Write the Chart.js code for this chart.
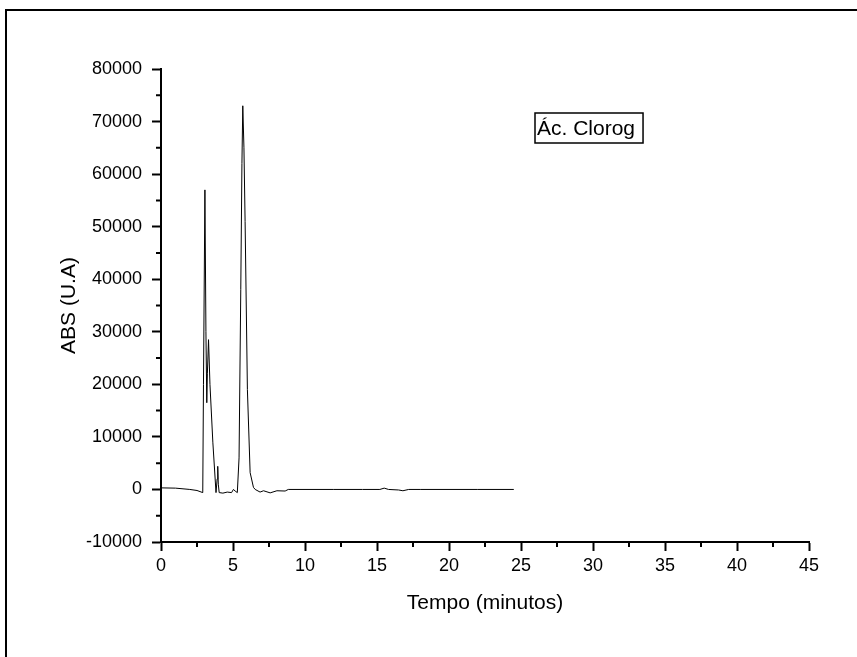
<!DOCTYPE html>
<html lang="pt">
<head>
    <meta charset="UTF-8" />
    <title>Ác. Clorog</title>
    <script src="https://cdn.jsdelivr.net/npm/chart.js"></script>
    <style>
        html, body { margin: 0; padding: 0; background: #fff; overflow: hidden; }
        #wrap { position: relative; width: 857px; height: 657px; overflow: hidden; }
        #moldura {
            position: absolute; left: 5px; top: 9px; width: 900px; height: 700px;
            border-top: 2px solid #000; border-left: 2px solid #000;
        }
        canvas { position: absolute; left: 0; top: 0; }
    </style>
</head>
<body>
    <div id="wrap">
        <div id="moldura"></div>
        <canvas id="grafico" width="857" height="657"></canvas>
    </div>

    <script>
        const tempo = [0, 1, 2, 2.5, 2.9, 2.95, 3.05, 3.12, 3.18, 3.22, 3.3, 3.4, 3.6, 3.82, 3.9, 3.94, 3.98, 4.04,
            4.3, 4.6, 4.9, 5.03, 5.15, 5.3, 5.42, 5.54, 5.62, 5.68, 5.76, 5.84, 6.0, 6.19, 6.42, 6.54, 6.88, 7.12,
            7.58, 8.05, 8.62, 8.84, 10, 12, 14, 15.2, 15.5, 15.8, 16.5, 16.8, 17.2, 18, 20, 22, 24.5];
        const abs = [300, 250, 0, -200, -600, 20000, 57000, 30000, 16500, 22000, 28500, 20000, 9000, -600, 2000, 4400, 1000, -600,
            -700, -500, -600, 0, -300, -600, 6000, 38000, 62000, 73000, 65000, 51000, 19000, 3200, 400, 0, -500, -250,
            -650, -250, -300, 0, 0, 0, 0, 0, 250, 0, -100, -250, 0, 0, 0, 0, 0];
        const ticksX = [0, 5, 10, 15, 20, 25, 30, 35, 40, 45];
        const ticksY = [-10000, 0, 10000, 20000, 30000, 40000, 50000, 60000, 70000, 80000];
        const rotulo = 'Ác. Clorog';

        const fonte = "'Liberation Sans', Arial, sans-serif";

        // ticks menores + caixa do rótulo
        const extras = {
            id: 'extras',
            afterDraw(chart) {
                const { ctx, chartArea, scales } = chart;
                ctx.save();
                ctx.strokeStyle = '#000';
                ctx.lineWidth = 2;
                ctx.beginPath();
                for (let i = 0; i < ticksX.length - 1; i++) {
                    const px = scales.x.getPixelForValue((ticksX[i] + ticksX[i + 1]) / 2);
                    ctx.moveTo(px, chartArea.bottom);
                    ctx.lineTo(px, chartArea.bottom + 5);
                }
                for (let i = 0; i < ticksY.length - 1; i++) {
                    const py = scales.y.getPixelForValue((ticksY[i] + ticksY[i + 1]) / 2);
                    ctx.moveTo(chartArea.left, py);
                    ctx.lineTo(chartArea.left - 5, py);
                }
                ctx.stroke();

                ctx.font = '21px ' + fonte;
                ctx.fillStyle = '#000';
                ctx.textBaseline = 'middle';
                const bx = chartArea.left + 374, by = chartArea.top + 44;
                const w = ctx.measureText(rotulo).width;
                ctx.lineWidth = 1.5;
                ctx.strokeRect(bx, by, w + 10, 30);
                ctx.fillText(rotulo, bx + 2, by + 16);
                ctx.restore();
            }
        };

        new Chart(document.getElementById('grafico'), {
            type: 'scatter',
            data: {
                datasets: [{
                    data: tempo.map((t, i) => ({ x: t, y: abs[i] })),
                    showLine: true,
                    borderColor: '#000',
                    borderWidth: 1,
                    pointRadius: 0,
                    tension: 0
                }]
            },
            options: {
                responsive: false,
                animation: false,
                devicePixelRatio: 1,
                layout: { padding: { left: 0, top: 69, right: 48, bottom: 0 } },
                plugins: { legend: { display: false }, tooltip: { enabled: false } },
                scales: {
                    x: {
                        type: 'linear', min: 0, max: 45,
                        afterBuildTicks: (s) => { s.ticks = ticksX.map(v => ({ value: v })); },
                        afterFit: (s) => { s.height = 115; },
                        ticks: { color: '#000', font: { family: fonte, size: 18 }, padding: 4, maxRotation: 0, callback: v => String(v) },
                        grid: { drawOnChartArea: false, color: '#000', tickLength: 9, tickWidth: 2 },
                        border: { color: '#000', width: 2 },
                        title: { display: true, text: 'Tempo (minutos)', color: '#000', font: { family: fonte, size: 21 }, padding: { top: 0, bottom: 41 } }
                    },
                    y: {
                        type: 'linear', min: -10000, max: 80000,
                        afterBuildTicks: (s) => { s.ticks = ticksY.map(v => ({ value: v })); },
                        afterFit: (s) => { s.width = 161; },
                        ticks: { color: '#000', font: { family: fonte, size: 18 }, padding: 10, callback: v => String(v) },
                        grid: { drawOnChartArea: false, color: '#000', tickLength: 9, tickWidth: 2 },
                        border: { color: '#000', width: 2 },
                        title: { display: true, text: 'ABS (U.A)', color: '#000', font: { family: fonte, size: 21 }, padding: { top: 57, bottom: 0 } }
                    }
                }
            },
            plugins: [extras]
        });
    </script>
</body>
</html>
